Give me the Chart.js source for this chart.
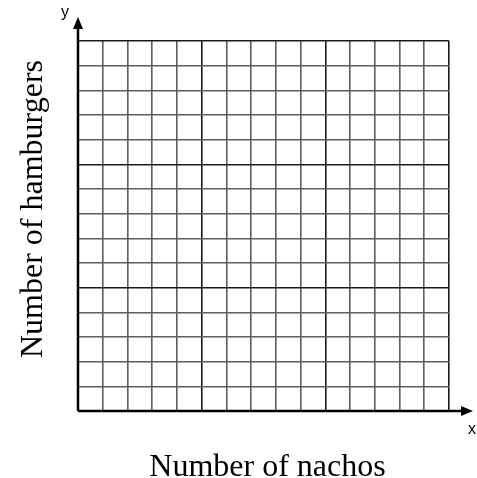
<!DOCTYPE html>
<html>
<head>
<meta charset="utf-8">
<script src="https://cdn.jsdelivr.net/npm/chart.js@4/dist/chart.umd.min.js"></script>
<style>
  html, body { margin: 0; padding: 0; background: #fff; }
  #wrap { width: 477px; height: 478px; }
</style>
</head>
<body>
<div id="wrap"><canvas id="grid"></canvas></div>
<script>
// Blank coordinate grid: 15 x 15 squares, darker line every 5
const xRange = [0, 15];
const yRange = [0, 15];
const majorEvery = 5;
const xTitle = "Number of nachos";
const yTitle = "Number of hamburgers";
const xName = "x";
const yName = "y";

// Axis lines with arrowheads, axis names and titles
const axesPlugin = {
  id: "axesArrows",
  afterDraw(chart) {
    const { ctx, chartArea, scales } = chart;
    const x0 = scales.x.getPixelForValue(xRange[0]);
    const y0 = scales.y.getPixelForValue(yRange[0]);
    const xEnd = chartArea.right + 24;
    const yEnd = chartArea.top - 24;

    ctx.save();
    ctx.strokeStyle = "#000";
    ctx.fillStyle = "#000";
    ctx.lineWidth = 2.5;
    ctx.beginPath();
    ctx.moveTo(x0, y0);
    ctx.lineTo(x0, yEnd + 8);
    ctx.moveTo(x0, y0);
    ctx.lineTo(xEnd - 8, y0);
    ctx.stroke();

    // arrowheads
    ctx.beginPath();
    ctx.moveTo(x0, yEnd);
    ctx.lineTo(x0 - 5, yEnd + 12);
    ctx.lineTo(x0 + 5, yEnd + 12);
    ctx.closePath();
    ctx.fill();
    ctx.beginPath();
    ctx.moveTo(xEnd, y0);
    ctx.lineTo(xEnd - 12, y0 - 5);
    ctx.lineTo(xEnd - 12, y0 + 5);
    ctx.closePath();
    ctx.fill();

    ctx.font = "16px 'Liberation Sans', Arial, sans-serif";
    ctx.textAlign = "center";
    ctx.textBaseline = "alphabetic";
    ctx.fillText(yName, x0 - 13, yEnd);
    ctx.fillText(xName, xEnd - 1, y0 + 23);

    ctx.font = "32px 'Liberation Serif', 'Times New Roman', serif";
    ctx.fillText(xTitle, (chartArea.left + chartArea.right) / 2 + 4, y0 + 65);
    ctx.translate(42, (chartArea.top + chartArea.bottom) / 2 - 17);
    ctx.rotate(-Math.PI / 2);
    ctx.fillText(yTitle, 0, 0);
    ctx.restore();
  },
};

function gridColor(context) {
  const v = context.tick ? context.tick.value : 0;
  return v % majorEvery === 0 ? "#1a1a1a" : "#5e5e5e";
}

new Chart(document.getElementById("grid"), {
  type: "scatter",
  data: { datasets: [{ data: [] }] },
  options: {
    responsive: true,
    maintainAspectRatio: false,
    animation: false,
    layout: { padding: { left: 78, top: 41, right: 28, bottom: 67 } },
    plugins: { legend: { display: false }, tooltip: { enabled: false } },
    scales: {
      x: {
        type: "linear",
        min: xRange[0],
        max: xRange[1],
        ticks: { display: false, stepSize: 1 },
        grid: { color: gridColor, lineWidth: 1.6, drawTicks: false },
        border: { display: false },
      },
      y: {
        type: "linear",
        min: yRange[0],
        max: yRange[1],
        ticks: { display: false, stepSize: 1 },
        grid: { color: gridColor, lineWidth: 1.6, drawTicks: false },
        border: { display: false },
      },
    },
  },
  plugins: [axesPlugin],
});
</script>
</body>
</html>
